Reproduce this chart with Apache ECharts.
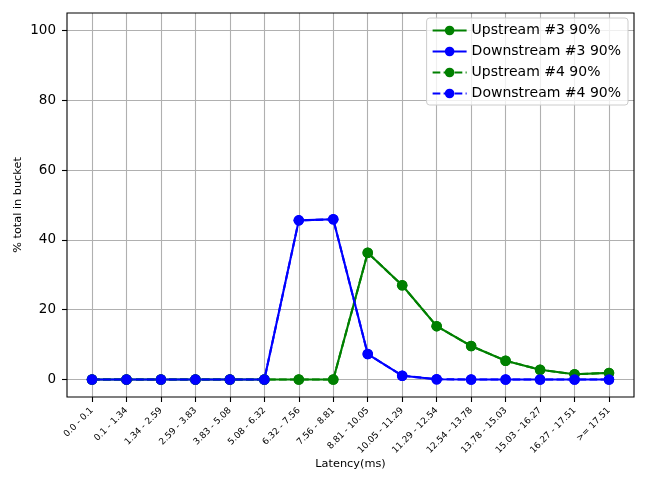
<!DOCTYPE html>
<html>
<head>
<meta charset="utf-8">
<script src="https://cdn.jsdelivr.net/npm/echarts@6/dist/echarts.min.js"></script>
<style>html,body{margin:0;padding:0;background:#fff;}#c{width:648px;height:488px;}</style>
</head>
<body>
<div id="c"></div>
<script>
const categories = ['0.0 - 0.1','0.1 - 1.34','1.34 - 2.59','2.59 - 3.83','3.83 - 5.08','5.08 - 6.32','6.32 - 7.56','7.56 - 8.81','8.81 - 10.05','10.05 - 11.29','11.29 - 12.54','12.54 - 13.78','13.78 - 15.03','15.03 - 16.27','16.27 - 17.51','>= 17.51'];
const upstream3 = [0,0,0,0,0,0,0,0,36.3,27.0,15.3,9.6,5.4,2.8,1.5,1.9];
const downstream3 = [0,0,0,0,0,0,45.6,45.9,7.3,1.1,0.1,0,0,0,0,0];
const upstream4 = [0,0,0,0,0,0,0,0,36.3,27.0,15.3,9.6,5.4,2.8,1.5,1.9];
const downstream4 = [0,0,0,0,0,0,45.6,45.9,7.3,1.1,0.1,0,0,0,0,0];
const yTicks = [0,20,40,60,80,100];
const seriesNames = ['Upstream #3 90%','Downstream #3 90%','Upstream #4 90%','Downstream #4 90%'];

const FONT = 'DejaVu Sans';
const GREEN = '#008000', BLUE = '#0000ff';
const dash = [7.7, 3.3];
function mk(name, arr, color, dashed) {
  return {
    name: name, type: 'line', xAxisIndex: 0, yAxisIndex: 0,
    data: arr.map((v, i) => [i, v]),
    symbol: 'circle', symbolSize: 10.5, showAllSymbol: true, clip: false,
    lineStyle: { color: color, width: 2.1, type: dashed ? dash : 'solid' },
    itemStyle: { color: color, borderWidth: 0 },
    emphasis: { disabled: true }
  };
}
const chart = echarts.init(document.getElementById('c'), null, { renderer: 'canvas' });
chart.setOption({
  animation: false,
  textStyle: { fontFamily: FONT },
  grid: [
    { left: 92, right: 39, top: 13, bottom: 91 },
    { left: 67, right: 14, top: 30.45, bottom: 108.45 },
    { left: 67, right: 14, top: 13, bottom: 91, show: true, borderColor: '#000', borderWidth: 1.1, backgroundColor: 'transparent', z: 5 }
  ],
  xAxis: [
    { type: 'value', gridIndex: 0, min: 0, max: 15, interval: 1,
      axisLine: { show: false, onZero: false },
      axisTick: { show: true, inside: false, length: 5, lineStyle: { color: '#000', width: 1.1 } },
      axisLabel: { show: true, rotate: 45, fontSize: 9, color: '#000', margin: 12, fontFamily: FONT,
        formatter: v => categories[v] },
      splitLine: { show: true, lineStyle: { color: '#b0b0b0', width: 1.1 } },
      name: 'Latency(ms)', nameLocation: 'middle', nameGap: 62, nameMoveOverlap: false,
      nameTextStyle: { fontSize: 11.3, color: '#000', fontFamily: FONT } },
    { type: 'value', gridIndex: 1, min: 0, max: 1, show: false },
    { type: 'value', gridIndex: 2, min: 0, max: 1, show: false }
  ],
  yAxis: [
    { type: 'value', gridIndex: 0, min: -5, max: 105, show: false },
    { type: 'value', gridIndex: 1, min: 0, max: 100, interval: 20,
      axisLine: { show: false, onZero: false },
      axisTick: { show: true, inside: false, length: 5, lineStyle: { color: '#000', width: 1.1 } },
      axisLabel: { fontSize: 13.5, color: '#000', margin: 11, fontFamily: FONT,
        formatter: v => yTicks.indexOf(v) >= 0 ? String(v) : '' },
      splitLine: { show: true, lineStyle: { color: '#b0b0b0', width: 1.1 } },
      name: '% total in bucket', nameLocation: 'middle', nameGap: 43, nameMoveOverlap: false,
      nameTextStyle: { fontSize: 11.3, color: '#000', fontFamily: FONT } },
    { type: 'value', gridIndex: 2, min: 0, max: 1, show: false }
  ],
  legend: {
    orient: 'vertical', right: 20, top: 18,
    data: seriesNames,
    itemWidth: 34, itemHeight: 12, itemGap: 6,
    padding: [5, 7, 4, 5],
    backgroundColor: 'rgba(255,255,255,0.8)', borderColor: '#cccccc', borderWidth: 1, borderRadius: 3,
    textStyle: { fontSize: 14, color: '#000', fontFamily: FONT, lineHeight: 15 },
    selectedMode: false
  },
  series: [
    mk(seriesNames[0], upstream3, GREEN, false),
    mk(seriesNames[1], downstream3, BLUE, false),
    mk(seriesNames[2], upstream4, GREEN, true),
    mk(seriesNames[3], downstream4, BLUE, true)
  ]
});
</script>
</body>
</html>
